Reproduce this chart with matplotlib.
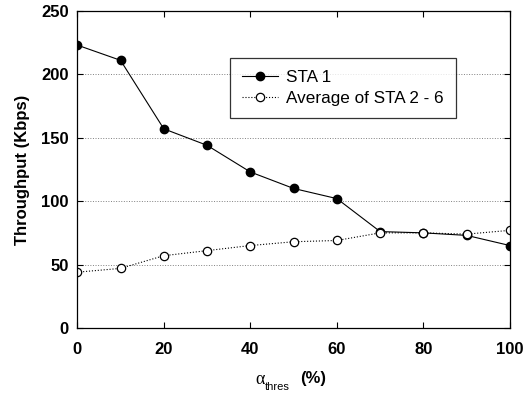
import matplotlib.pyplot as plt
import numpy as np

plt.rcParams['font.family'] = ['Liberation Sans', 'DejaVu Sans']

alpha_thres = [0, 10, 20, 30, 40, 50, 60, 70, 80, 90, 100]
sta1 = [223, 211, 157, 144, 123, 110, 102, 76, 75, 73, 65]
avg_sta2_6 = [44, 47, 57, 61, 65, 68, 69, 75, 75, 74, 77]

fig = plt.figure(figsize=(5.29, 4.01), dpi=100)
ax = fig.add_axes([0.146, 0.182, 0.818, 0.791])

ax.plot(alpha_thres, sta1, '-', color='black', lw=0.8, marker='o',
        ms=6, mfc='black', mec='black', label='STA 1')
ax.plot(alpha_thres, avg_sta2_6, ':', color='black', lw=0.8, marker='o',
        ms=6, mfc='white', mec='black', mew=0.9, label='Average of STA 2 - 6')

ax.set_xlim(0, 100)
ax.set_ylim(0, 250)
ax.set_xticks(np.arange(0, 101, 20))
ax.set_yticks(np.arange(0, 251, 50))
for y in [50, 100, 150, 200]:
    ax.axhline(y, color='gray', ls=':', lw=0.7, zorder=0)

ax.tick_params(direction='in', top=True, right=True, length=4, width=0.8,
               labelsize=12)
ax.tick_params(axis='x', pad=10)
ax.tick_params(axis='y', pad=6)
for lab in ax.get_xticklabels() + ax.get_yticklabels():
    lab.set_fontweight('bold')
for s in ax.spines.values():
    s.set_linewidth(0.9)

ax.set_ylabel('Throughput (Kbps)', fontsize=12, fontweight='bold', labelpad=8)

# x label: alpha with subscript "thres", then bold "(%)"
ax.text(0.423, -0.178, '\u03b1', transform=ax.transAxes, fontsize=13,
        family='Liberation Serif', ha='center', va='baseline')
ax.text(0.463, -0.196, 'thres', transform=ax.transAxes, fontsize=8,
        ha='center', va='baseline')
ax.text(0.515, -0.172, '(%)', transform=ax.transAxes, fontsize=12,
        fontweight='bold', ha='left', va='baseline')

leg = ax.legend(loc='upper left', bbox_to_anchor=(0.353, 0.852),
                borderaxespad=0, fontsize=12.3, frameon=True, fancybox=False,
                edgecolor='black', handlelength=2.1, borderpad=0.7,
                labelspacing=0.35, handletextpad=0.5)
leg.get_frame().set_linewidth(0.9)

fig.savefig('out.png', dpi=100)
